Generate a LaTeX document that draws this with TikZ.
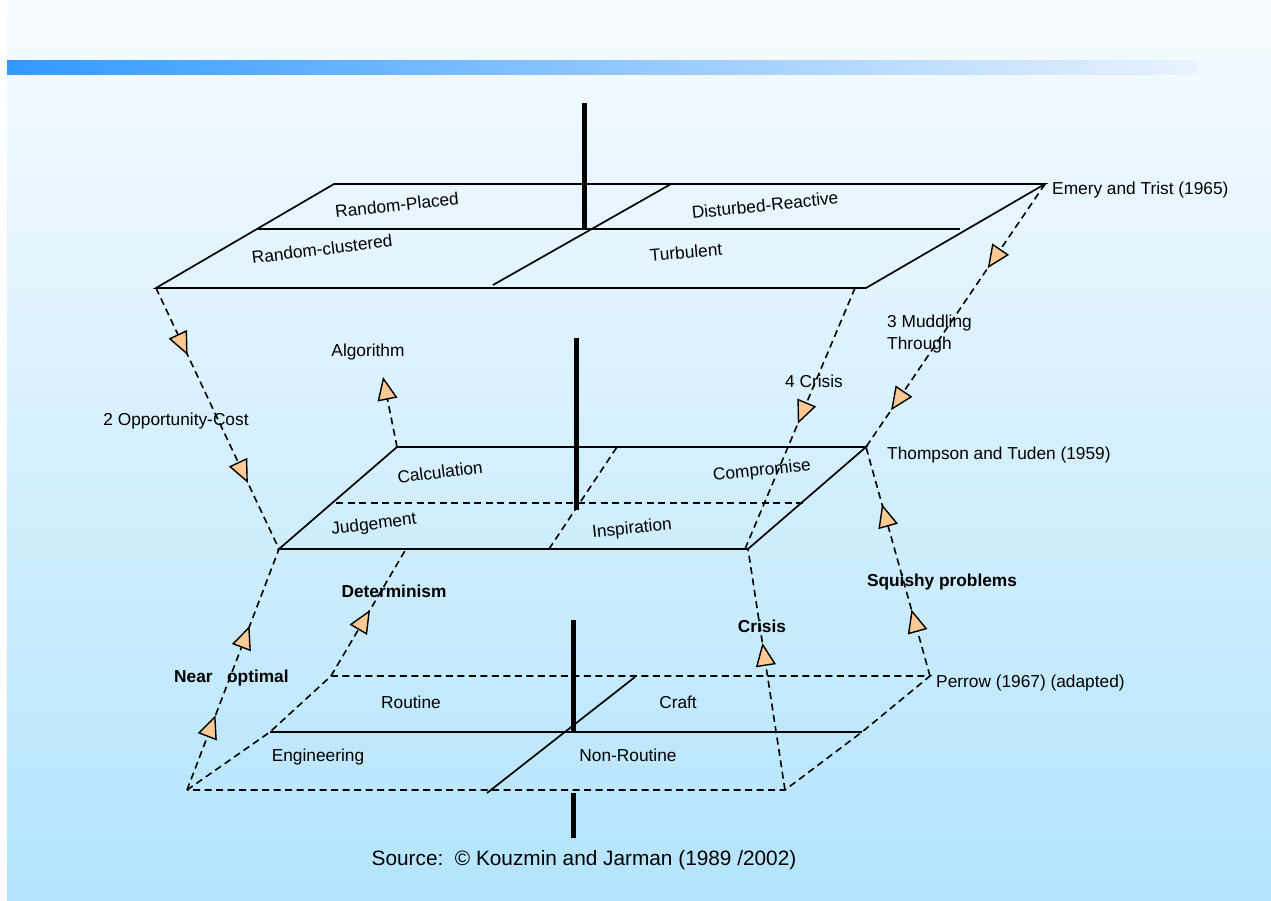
\documentclass[tikz,border=0pt]{standalone}
\usepackage{fontspec}
\setmainfont{Liberation Sans}
\usetikzlibrary{arrows.meta,decorations.markings}
\definecolor{bgtop}{RGB}{247,251,254}
\definecolor{bgbot}{RGB}{179,228,253}
\definecolor{barL}{RGB}{51,153,255}
\definecolor{barM}{RGB}{160,196,252}
\definecolor{barR}{RGB}{233,243,253}
\definecolor{tri}{RGB}{255,201,148}
\tikzset{
  plane/.style={line width=1.7pt},
  dashline/.style={line width=1.6pt, dash pattern=on 7pt off 4.5pt},
  thickbar/.style={line width=5pt},
  lbl/.style={font=\fontsize{17.3}{22}\selectfont, inner sep=0pt},
  blbl/.style={lbl, font=\fontsize{17.3}{22}\selectfont\bfseries},
  otri/.tip={Triangle[length=23pt,width=20pt,fill=tri,line width=1.4pt]},
  onetri/.style={postaction={decorate}, decoration={markings, mark=at position #1 with {\arrow{otri}}}},
  twotri/.style 2 args={postaction={decorate}, decoration={markings, mark=at position #1 with {\arrow{otri}}, mark=at position #2 with {\arrow{otri}}}}
}
\begin{document}
\begin{tikzpicture}[x=1pt,y=-1pt]
\useasboundingbox (0,0) rectangle (1271,901);
\fill[white] (0,0) rectangle (1271,901);
\shade[top color=bgtop, bottom color=bgbot] (7,0) rectangle (1271,901);
\shade[left color=barL, middle color=barM, right color=barR] (7,61) rectangle (1197,75);

% top plane
\coordinate (TBL) at (334,184);
\coordinate (TBR) at (1045,184);
\coordinate (TFL) at (156,288);
\coordinate (TFR) at (866,288);
\coordinate (TML) at (258,229);
\coordinate (TMR) at (960,229);
\coordinate (TDB) at (493,285);
\coordinate (TDT) at (671,184);
\coordinate (TVT) at (584,103);
\coordinate (TVB) at (584,229);
% middle plane
\coordinate (MBL) at (397,447);
\coordinate (MBR) at (866,447);
\coordinate (MFL) at (279,549);
\coordinate (MFR) at (748,549);
\coordinate (MML) at (336,503);
\coordinate (MMR) at (806,503);
\coordinate (MDB) at (549,549);
\coordinate (MDT) at (617,447);
\coordinate (MVT) at (576,338);
\coordinate (MVB) at (576,510);
% bottom plane
\coordinate (BBL) at (331,676);
\coordinate (BBR) at (930,676);
\coordinate (BFL) at (187,790);
\coordinate (BFR) at (785,790);
\coordinate (BML) at (270,732);
\coordinate (BMR) at (862,732);
\coordinate (BDB) at (487,793);
\coordinate (BDT) at (635,677);
\coordinate (BVT) at (573,620);
\coordinate (BVB) at (573,733);
\coordinate (BVT2) at (573,793);
\coordinate (BVB2) at (573,838);
% connector ends
\coordinate (CrisisTop) at (855,288);
\coordinate (CrisisBot) at (745,549);
\coordinate (DetTop) at (406,549);
\coordinate (AlgTip) at (383,377);

% top plane
\draw[plane] (TFL) -- (TBL) -- (TBR) -- (TFR) -- cycle;
\draw[plane] (TML) -- (TMR);
\draw[plane] (TDB) -- (TDT);
\draw[thickbar] (TVT) -- (TVB);

% middle plane
\draw[plane] (MFL) -- (MBL) -- (MBR) -- (MFR) -- cycle;
\draw[dashline] (MML) -- (MMR);
\draw[dashline] (MDB) -- (MDT);
\draw[thickbar] (MVT) -- (MVB);

% bottom plane
\draw[dashline] (BFL) -- (BML) -- (BBL) -- (BBR) -- (BMR) -- (BFR) -- cycle;
\draw[plane] (BML) -- (BMR);
\draw[plane] (BDB) -- (BDT);
\draw[thickbar] (BVT) -- (BVB);
\draw[thickbar] (BVT2) -- (BVB2);

% connectors
\draw[dashline, twotri={0.257}{0.747}] (TFL) -- (MFL);
\draw[dashline, -{otri}] (MBL) -- (AlgTip);
\draw[dashline, onetri=0.52] (CrisisTop) -- (CrisisBot);
\draw[dashline, twotri={0.32}{0.86}] (TBR) -- (MBR);
\draw[dashline, twotri={0.31}{0.68}] (BFL) -- (MFL);
\draw[dashline, onetri=0.52] (BBL) -- (DetTop);
\draw[dashline, onetri=0.61] (BFR) -- (MFR);
\draw[dashline, twotri={0.29}{0.75}] (BBR) -- (MBR);

% labels
\node[lbl, rotate=6] (rp) at (397,205) {Random-Placed};
\node[lbl, rotate=6] (dr) at (765,205) {Disturbed-Reactive};
\node[lbl, rotate=7] (rc) at (322,249) {Random-clustered};
\node[lbl, rotate=5] (tu) at (686,252) {Turbulent};
\node[lbl, anchor=west] (et) at (1052,190) {Emery and Trist (1965)};
\node[lbl] (alg) at (368,352) {Algorithm};
\node[lbl] (oc) at (176,421) {2 Opportunity-Cost};
\node[lbl, anchor=west, align=left] (mt) at (887,334) {3 Muddling\\Through};
\node[lbl] (cr4) at (814,381) {4 Crisis};
\node[lbl, anchor=west] (tt) at (887,455) {Thompson and Tuden (1959)};
\node[lbl, rotate=7] (calc) at (440,472) {Calculation};
\node[lbl, rotate=6] (comp) at (762,471) {Compromise};
\node[lbl, rotate=7] (judg) at (374,525) {Judgement};
\node[lbl, rotate=6] (insp) at (632,529) {Inspiration};
\node[blbl] (det) at (394,591) {Determinism};
\node[blbl, anchor=west] (no) at (174,678) {Near\hspace{14.5pt}optimal};
\node[blbl] (cri) at (762,626) {Crisis};
\node[blbl] (sq) at (942,582) {Squishy problems};
\node[lbl, anchor=west] (pe) at (936,683) {Perrow (1967) (adapted)};
\node[lbl] (rou) at (411,702) {Routine};
\node[lbl] (cra) at (678,702) {Craft};
\node[lbl] (eng) at (318,757) {Engineering};
\node[lbl] (nr) at (628,755) {Non-Routine};
\node[lbl, font=\fontsize{20.8}{25}\selectfont] (src) at (584,860) {Source:\ \ © Kouzmin and Jarman (1989 /2002)};
\end{tikzpicture}
\end{document}
